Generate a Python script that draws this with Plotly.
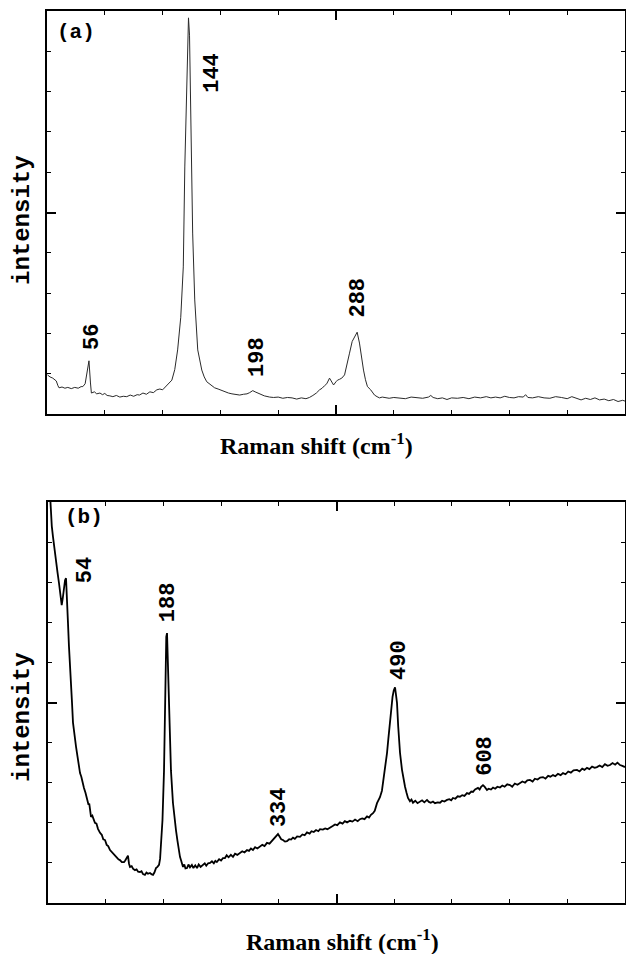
import plotly.graph_objects as go

# ---------------- data ----------------
a_shift = [20.4, 22.6, 25, 28, 29.5, 30.4, 33, 35.5, 38, 41, 44, 47, 49.5, 51, 53, 54.5, 56.3, 57.6, 58.4, 61,
           63, 65.8, 68, 70, 72, 74.4, 77, 80, 83, 86, 89, 92, 95, 98, 100, 103, 106, 109, 112, 115,
           117.6, 120, 122, 124.5, 126.5, 128, 130.5, 133, 135.7, 137.9, 139.2, 141, 142.4, 143.3, 144.4, 146, 147.8, 150.4, 153.9, 156,
           158.2, 161, 163, 165, 168, 171, 173.7, 177, 180, 183, 186.7, 190, 193, 195.3, 198, 200, 202, 205, 208, 212.6,
           216, 220, 224, 228, 232, 236, 240, 244, 247, 250, 253, 255.8, 258, 260, 262, 264.4, 266, 267.9, 270, 271.3,
           273, 275, 277.4, 279.5, 281.7, 284, 286, 288.3, 290.3, 292, 293.8, 295.5, 297.2, 300, 301.5, 303.3, 305.5, 307.6, 310, 313,
           316, 320, 325, 330, 335, 340, 345, 350, 352, 354, 358, 362, 366, 370, 375, 380, 385, 390, 395, 400,
           404, 408, 412, 416, 420, 424, 428, 432, 434, 436, 440, 445, 450, 455, 460, 465, 470, 474, 478, 482,
           486, 490, 494, 498, 502, 506, 510, 514, 518, 520]
a_intensity = [9.7, 9.2, 8.9, 8.2, 7.0, 6.5, 6.7, 6.4, 6.6, 6.3, 6.6, 6.4, 6.8, 6.8, 7.5, 10, 13.2, 7.7, 5.2, 5.5,
               5.0, 5.2, 4.8, 5.1, 4.6, 4.5, 4.3, 4.6, 4.2, 4.4, 4.3, 4.7, 4.4, 4.8, 4.7, 5.2, 4.9, 5.5, 5.3, 6.0,
               6.2, 6.0, 6.6, 7.2, 7.8, 8.4, 11, 15.9, 24, 36.5, 61.3, 86, 98.3, 94, 69.7, 44.9, 28.3, 15.9, 10.9, 9.2,
               8.0, 7.4, 7.0, 6.5, 6.2, 5.8, 5.5, 5.2, 5.0, 4.8, 4.7, 4.9, 5.0, 5.3, 5.8, 5.5, 5.2, 4.8, 4.5, 4.2,
               4.1, 4.2, 3.9, 4.1, 4.0, 3.7, 4.0, 3.8, 4.1, 4.6, 5.2, 6.0, 6.4, 7.0, 7.5, 8.9, 8.0, 7.2, 8.0, 8.4,
               8.6, 8.9, 9.7, 12, 15.1, 18, 19.1, 20.3, 17.6, 14, 10.9, 8.5, 6.8, 6.0, 5.5, 4.7, 4.3, 4.0, 4.2, 4.0,
               3.9, 4.1, 4.0, 3.8, 4.2, 4.0, 3.9, 4.2, 4.6, 4.1, 3.8, 4.0, 3.6, 4.0, 3.9, 4.1, 3.8, 4.2, 4.0, 4.3,
               4.0, 4.2, 4.0, 4.4, 4.1, 4.0, 4.3, 4.2, 4.8, 4.1, 4.0, 4.3, 4.0, 3.9, 4.3, 4.1, 3.8, 4.3, 3.9, 3.5,
               3.9, 3.6, 4.0, 3.5, 3.7, 3.3, 3.6, 3.1, 3.4, 3.2]

b_shift = [33.5, 35, 37, 38.6, 40.5, 42.6, 44.5, 46.5, 48.5, 50.1, 51.5, 53.1, 54.5, 55.8, 57, 58.4, 59.7, 61, 62.4, 63.7,
           65, 67, 69, 71, 72.5, 74.3, 76, 77.5, 79.5, 81.5, 83.5, 85.5, 86.5, 88.8, 90.5, 92.5, 94, 96, 98, 100.7,
           103, 105, 107.3, 109.5, 111.5, 113.9, 116, 118, 120.5, 123, 125, 127, 129.5, 132.4, 134, 136, 137.6, 139, 140.3, 142.5,
           144.5, 146.9, 149, 151, 153.5, 155.5, 157.5, 160, 162, 164, 166.7, 168.5, 170.7, 172.5, 174.6, 176.5, 178.6, 180, 181.2, 183.2,
           185.2, 186.5, 188.2, 189.2, 190.5, 192.5, 194.4, 197, 199, 201, 203, 205, 206.3, 208, 210.3, 212, 213.5, 215.6, 217.5, 219.5,
           222, 224, 226.5, 228.8, 231, 233.5, 236.7, 239, 241, 243.5, 246, 248.5, 251, 253, 255, 258, 260.5, 263, 265.7, 268,
           270.5, 273.5, 276.3, 279, 282, 285.6, 288.5, 291.5, 294.8, 297.5, 300, 302.7, 305.5, 308.5, 312, 315, 318, 321.2, 324.5, 327.8,
           331, 333.5, 335.7, 338, 340, 342.3, 345, 347.6, 350.5, 353, 355.5, 358, 361, 364.8, 368, 371, 374, 377.5, 380, 383,
           386, 389, 391.2, 395, 398, 401, 404.4, 408, 411, 414, 417.6, 421, 424, 427, 430.8, 434, 437.5, 441, 444, 447,
           450, 453.3, 456, 458.5, 461.2, 463.5, 466.5, 468.5, 470.4, 473, 475.7, 477.5, 479.7, 481.5, 483.6, 485.3, 487, 488.6, 490.3, 491.5,
           492.9, 494.5, 496.9, 499.5, 501.5, 503.5, 505.5, 507.4, 510, 512, 514, 517, 520, 523.3, 526, 529, 532.5, 535, 537.5, 540.4,
           543, 546.5, 549.7, 552.5, 555.5, 558.9, 562, 564.5, 566.8, 570, 573, 576, 579, 582, 585.3, 588, 591, 593.2, 596, 599.8,
           602, 604, 606.4, 608.5, 611.7, 614, 617, 619.7, 622.5, 625.5, 628.9, 632, 635, 638.5, 642.1, 645, 648.5, 652, 655.3, 658.5,
           662, 665, 668.5, 672, 675, 678.5, 682, 685.7, 689, 692.5, 695.5, 698.9, 702, 705.5, 709, 712.1, 715.5, 719, 722.5, 726,
           730.6, 734, 737.5, 740.5, 743.8, 747, 750.5, 754, 757, 760.5, 764, 767.5, 771, 774.2, 777.5, 781, 784, 787.4, 790.5, 794]
b_intensity = [106, 99, 94, 91.3, 88, 85.5, 82.5, 79.8, 76.5, 74.3, 76, 78.8, 80.5, 81, 77, 69.8, 64, 59.9, 56.4, 50,
               45, 41.5, 39, 36.5, 34.5, 32.4, 31.5, 30, 28.7, 27.5, 26.2, 24.5, 24.8, 21.5, 21.8, 20.5, 20, 19.8, 18.5, 17.5,
               17, 15.9, 15.7, 14.5, 14.2, 13.2, 12.8, 12.5, 12, 11.3, 10.9, 10.7, 10.2, 10.2, 10.6, 11.5, 11.8, 9.8, 9.0, 9.2,
               8.5, 8.2, 8.4, 7.8, 7.7, 7.9, 7.2, 7.0, 7.6, 7.3, 7.5, 7.2, 7.0, 7.6, 8.7, 9.0, 9.5, 11, 14, 20.7,
               33, 50, 66.4, 67.3, 59.9, 45.6, 33, 25, 21, 18.2, 15.5, 12.5, 11.5, 10.5, 9.0, 9.6, 8.6, 8.7, 9.6, 8.9,
               9.5, 8.7, 9.4, 8.7, 9.6, 9.0, 9.5, 9.9, 9.3, 9.9, 10, 10.4, 9.9, 10.5, 10.2, 10.9, 10.6, 11.2, 11.2, 11.9,
               11.4, 12.0, 11.5, 12.3, 12.0, 12.4, 12.9, 12.6, 13.2, 13.0, 13.6, 13.2, 13.9, 13.6, 14.2, 14.5, 14.2, 15, 14.8, 15.5,
               16.2, 16.6, 17.2, 16.5, 15.9, 15.7, 15.3, 15.4, 15.9, 15.8, 16.3, 16.0, 16.6, 16.5, 17.1, 16.9, 17.6, 17.3, 17.9, 17.7,
               18.2, 17.9, 18.4, 18.3, 18.6, 18.4, 18.9, 19.2, 19.6, 19.4, 20.1, 19.8, 20.4, 20.1, 20.5, 20.3, 20.8, 20.4, 20.9, 21.1,
               20.9, 21.6, 21.3, 22.0, 22.4, 23, 24.9, 25.5, 26.4, 28, 31.4, 34, 37.4, 41, 45.6, 49, 51.4, 53, 53.8, 52,
               49.9, 44, 37.4, 33.2, 30.5, 29, 27.5, 26.2, 25.4, 25.8, 25.0, 25.5, 24.9, 25.3, 25.6, 25.1, 25.7, 25.2, 25.0, 25.3,
               24.9, 25.1, 25.0, 25.5, 25.3, 25.7, 25.9, 25.6, 26.2, 26.0, 26.6, 26.5, 26.9, 26.7, 27.4, 27.2, 27.8, 27.7, 28.3, 28.7,
               28.3, 29.0, 29.4, 29.0, 28.2, 28.5, 28.3, 28.8, 28.5, 29.0, 28.8, 29.3, 29.0, 29.6, 29.4, 29.0, 29.8, 29.5, 29.9, 30.3,
               30.0, 30.6, 30.7, 30.3, 31.0, 30.8, 31.3, 31.4, 31.0, 31.7, 31.5, 31.9, 31.6, 32.2, 31.9, 32.4, 32.1, 32.8, 32.5, 33.1,
               33.2, 32.8, 33.5, 33.2, 33.7, 33.4, 34.0, 33.7, 33.9, 34.3, 33.9, 34.6, 34.2, 34.4, 34.9, 34.5, 35.0, 34.4, 34.2, 33.9]

a_peak_labels = ["56", "144", "198", "288"]
b_peak_labels = ["54", "188", "334", "490", "608"]

# ---------------- layout constants ----------------
W, H = 626, 954
a_xrange = [20, 520]
b_xrange = [32, 794]
yrange = [0, 100]

# label anchor positions (data coords)
a_label_pos = [(58.9, 19.1), (162.5, 84.6), (201.4, 14.1), (289.4, 29.0)]
b_label_pos = [(80.9, 83.0), (190.5, 75.0), (337.0, 23.9), (496.9, 60.6), (610.4, 36.7)]

MONO = "Liberation Mono, Courier New, monospace"
SERIF = "Liberation Serif, Times New Roman, serif"

fig = go.Figure()
fig.add_trace(go.Scatter(x=a_shift, y=a_intensity, mode="lines",
                         line=dict(color="#2a2a2a", width=1), xaxis="x", yaxis="y",
                         showlegend=False, hoverinfo="skip"))
fig.add_trace(go.Scatter(x=b_shift, y=b_intensity, mode="lines",
                         line=dict(color="#000000", width=1.8), xaxis="x2", yaxis="y2",
                         showlegend=False, hoverinfo="skip"))


def axis(rng, domain, anchor):
    span = rng[1] - rng[0]
    return dict(range=rng, domain=domain, anchor=anchor,
                showgrid=False, zeroline=False, showticklabels=False,
                showline=True, linecolor="black", linewidth=2, mirror="ticks",
                ticks="inside", tickvals=[rng[0] + span / 2], ticklen=9, tickwidth=1.5,
                tickcolor="black",
                minor=dict(ticks="inside", tick0=rng[0], dtick=span / 10, ticklen=4,
                           tickwidth=1, tickcolor="black", showgrid=False))


a_xdom = [47 / W, 625 / W]
a_ydom = [1 - 414 / H, 1 - 11 / H]
b_xdom = [48 / W, 625 / W]
b_ydom = [1 - 903 / H, 1 - 502 / H]

fig.update_layout(
    width=W, height=H, margin=dict(l=0, r=0, t=0, b=0),
    paper_bgcolor="white", plot_bgcolor="white",
    xaxis=axis(a_xrange, a_xdom, "y"),
    yaxis=axis(yrange, a_ydom, "x"),
    xaxis2=axis(b_xrange, b_xdom, "y2"),
    yaxis2=axis(yrange, b_ydom, "x2"),
)

ann = []
for lab, (x, y) in zip(a_peak_labels, a_label_pos):
    ann.append(dict(text="<b>%s</b>" % lab, x=x, y=y, xref="x", yref="y", textangle=-90,
                    showarrow=False, font=dict(family=MONO, size=22, color="black"),
                    xanchor="center", yanchor="middle"))
for lab, (x, y) in zip(b_peak_labels, b_label_pos):
    ann.append(dict(text="<b>%s</b>" % lab, x=x, y=y, xref="x2", yref="y2", textangle=-90,
                    showarrow=False, font=dict(family=MONO, size=22, color="black"),
                    xanchor="center", yanchor="middle"))

# panel tags
ann.append(dict(text="<b>(a)</b>", x=76 / W, y=1 - 32.5 / H, xref="paper", yref="paper",
                showarrow=False, font=dict(family=MONO, size=21, color="black"),
                xanchor="center", yanchor="middle"))
ann.append(dict(text="<b>(b)</b>", x=84 / W, y=1 - 517.5 / H, xref="paper", yref="paper",
                showarrow=False, font=dict(family=MONO, size=21, color="black"),
                xanchor="center", yanchor="middle"))
# y labels
for yc in (220, 717):
    ann.append(dict(text="<b>intensity</b>", x=22 / W, y=1 - yc / H, xref="paper", yref="paper",
                    textangle=-90, showarrow=False, font=dict(family=MONO, size=24, color="black"),
                    xanchor="center", yanchor="middle"))
# x labels
for xc, yc in ((316.5, 444), (342.5, 940)):
    ann.append(dict(text="<b>Raman shift (cm<sup>-1</sup>)</b>", x=xc / W, y=1 - yc / H,
                    xref="paper", yref="paper", showarrow=False,
                    font=dict(family=SERIF, size=24, color="black"),
                    xanchor="center", yanchor="middle"))

fig.update_layout(annotations=ann)
fig.write_html("out.html")
